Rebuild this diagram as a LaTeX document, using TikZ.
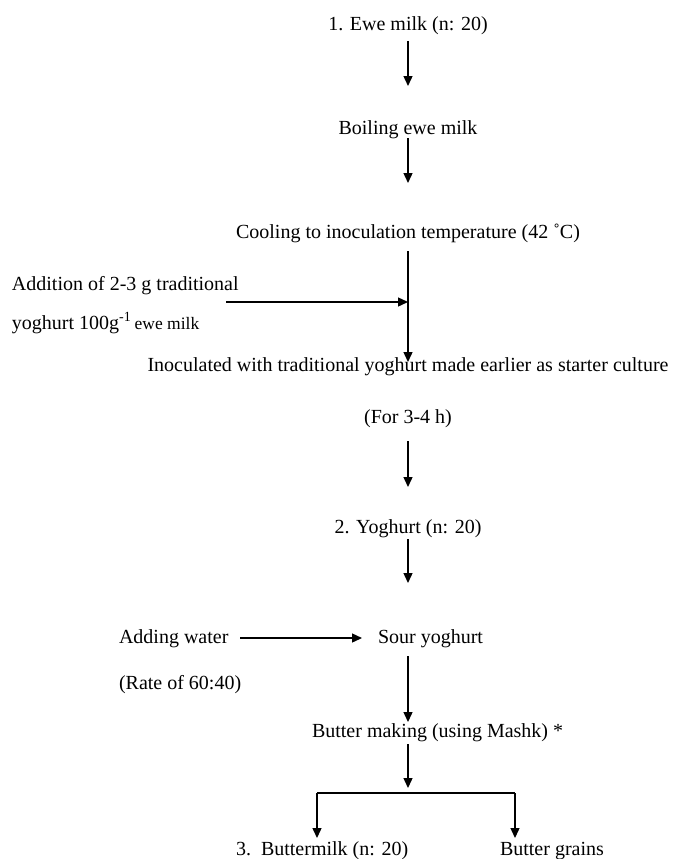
\documentclass[tikz,border=0pt]{standalone}
\usepackage{fontspec}
\setmainfont{Liberation Serif}
\usetikzlibrary{arrows.meta}
\tikzset{
  txt/.style={inner sep=0pt, outer sep=0pt, text height=14pt, text depth=4pt,
    font=\fontsize{20pt}{24pt}\selectfont},
  arr/.style={line width=1.4pt, -{Triangle[length=10pt,width=9pt]}},
  ln/.style={line width=1.4pt}
}
\begin{document}
\begin{tikzpicture}[x=1pt,y=-1pt]
\useasboundingbox (0,0) rectangle (675,859);
\coordinate (axis) at (408,0);
% main column
\node[txt, anchor=base] (ewe) at (408,31) {1. Ewe milk (n: 20)};
\node[txt, anchor=base] (boil) at (408,134) {Boiling ewe milk};
\node[txt, anchor=base] (cool) at (408,238) {Cooling to inoculation temperature (42 ˚C)};
\node[txt, anchor=base] (inoc) at (408,371) {Inoculated with traditional yoghurt made earlier as starter culture};
\node[txt, anchor=base] (for) at (408,423) {(For 3-4 h)};
\node[txt, anchor=base] (yog) at (408,533) {2. Yoghurt (n: 20)};
\node[txt, anchor=base west] (sour) at (378,643) {Sour yoghurt};
\node[txt, anchor=base west] (butter) at (312,737) {Butter making (using Mashk) *};
\node[txt, anchor=base west] (bm) at (236,855) {3.\ \ Buttermilk (n: 20)};
\node[txt, anchor=base west] (bg) at (500,855) {Butter grains};
% side inputs
\node[txt, anchor=base west] (add1) at (12,290) {Addition of 2-3 g traditional};
\node[txt, anchor=base west] (add2) at (12,329) {yoghurt 100g\textsuperscript{-1}\,{\fontsize{17.5pt}{20pt}\selectfont ewe milk}};
\node[txt, anchor=base west] (water) at (119,643) {Adding water};
\node[txt, anchor=base west] (rate) at (119,689) {(Rate of 60:40)};
% connectors
\draw[arr, shorten <=6pt, shorten >=34pt] (ewe.south -| axis) -- (boil.north -| axis);
\draw[arr, shorten <=0pt, shorten >=41pt] (boil.south -| axis) -- (cool.north -| axis);
\draw[arr, shorten <=9pt, shorten >=-5pt] (cool.south -| axis) -- (inoc.north -| axis);
\coordinate (addstart) at (226,302);
\draw[arr] (addstart) -- (addstart -| axis);
\draw[arr, shorten <=14pt, shorten >=32pt] (for.south -| axis) -- (yog.north -| axis);
\draw[arr, shorten <=2pt, shorten >=46pt] (yog.south -| axis) -- (sour.north -| axis);
\draw[arr, shorten <=12pt, shorten >=16pt] (water.east) -- (water.east -| sour.west);
\draw[arr, shorten <=9pt, shorten >=1pt] (sour.south -| axis) -- (butter.north -| axis);
\coordinate (split) at (408,793);
\coordinate (bl) at (317,793);
\coordinate (br) at (515,793);
\draw[arr, shorten <=3pt, shorten >=5pt] (butter.south -| axis) -- (split);
\draw[ln] (bl) -- (br);
\draw[arr, shorten >=3pt] (bl) -- (bl |- bm.north);
\draw[arr, shorten >=3pt] (br) -- (br |- bg.north);
\end{tikzpicture}
\end{document}
